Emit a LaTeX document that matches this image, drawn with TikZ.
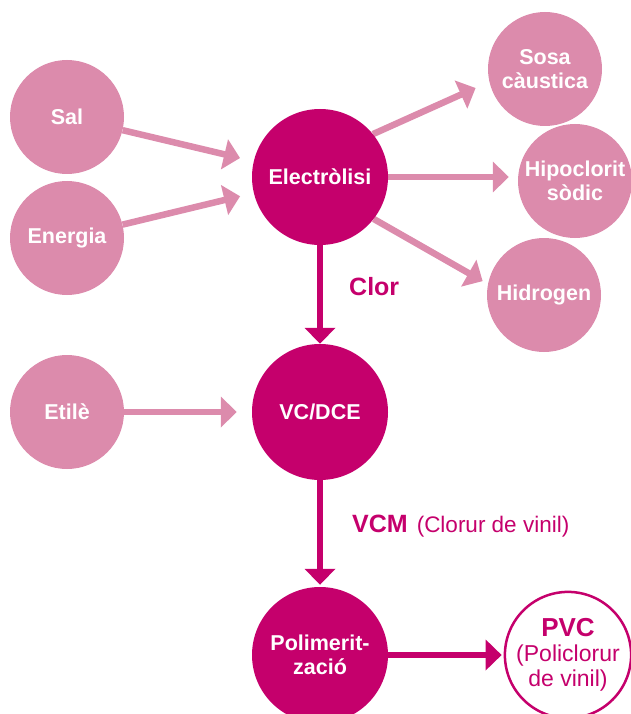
\documentclass[tikz,border=0pt]{standalone}
\usepackage{fontspec}
\setmainfont{Liberation Sans}
\usetikzlibrary{arrows.meta,backgrounds}
\definecolor{mag}{RGB}{197,0,108}
\definecolor{pinkc}{RGB}{220,139,172}
\begin{document}
\begin{tikzpicture}[x=1pt,y=-1pt,
  light/.style={circle, fill=pinkc, minimum size=114pt, inner sep=0pt, text=white,
    font=\fontsize{21.5}{24}\selectfont\bfseries, align=center},
  dark/.style={circle, fill=mag, minimum size=136pt, inner sep=0pt, text=white,
    font=\fontsize{21.5}{24}\selectfont\bfseries, align=center},
  larrow/.style={draw=pinkc, line width=6.5pt, -{Triangle[length=16pt,width=30pt]}},
  darrow/.style={draw=mag, line width=6pt, -{Triangle[length=16pt,width=30pt]}},
  lbl/.style={anchor=base west, text=mag, inner sep=0pt}
]
\useasboundingbox (0,0) rectangle (631,714);
\node[light] (sal) at (67,117) {Sal};
\node[light] (ene) at (67,238) {Energia};
\node[light] (eti) at (67,412) {Etilè};
\node[dark] (elec) at (320,177) {Electròlisi};
\node[light] (sosa) at (545,69) {Sosa\\càustica};
\node[light] (hipo) at (575,181) {Hipoclorit\\sòdic};
\node[light] (hid) at (544,295) {Hidrogen};
\node[dark] (vc) at (320,412) {VC/DCE};
\node[dark] (pol) at (320,655) {Polimerit-\\zació};
\node[circle, draw=mag, line width=2.5pt, fill=white, minimum size=124pt, inner sep=0pt,
  text=mag, align=center, font=\fontsize{23}{25}\selectfont] (pvc) at (568,655)
  {{\fontsize{26}{26}\selectfont\bfseries PVC}\\(Policlorur\\de vinil)};
\node[lbl, font=\fontsize{25}{25}\selectfont\bfseries] (clor) at (349,295) {Clor};
\node[lbl] (vcm) at (352,532) {{\fontsize{25}{25}\selectfont\bfseries VCM}\hspace{9pt}{\fontsize{22.5}{22.5}\selectfont(Clorur de vinil)}};
\begin{pgfonlayer}{background}
\draw[larrow, shorten >=14pt] (sal) -- (elec);
\draw[larrow, shorten >=14pt] (ene) -- (elec);
\draw[larrow, shorten >=15pt] (elec.39) -- (sosa.193);
\draw[larrow, shorten >=9pt] (elec.east) -- (elec.east -| hipo.west);
\draw[larrow, shorten >=6pt] (elec.-38) -- (hid.169);
\draw[larrow, shorten >=15pt] (eti) -- (vc);
\draw[darrow] (elec) -- (vc);
\draw[darrow, shorten >=2pt] (vc) -- (pol);
\draw[darrow, shorten >=2pt] (pol.east) -- (pol.east -| pvc.west);
\end{pgfonlayer}
\end{tikzpicture}
\end{document}
